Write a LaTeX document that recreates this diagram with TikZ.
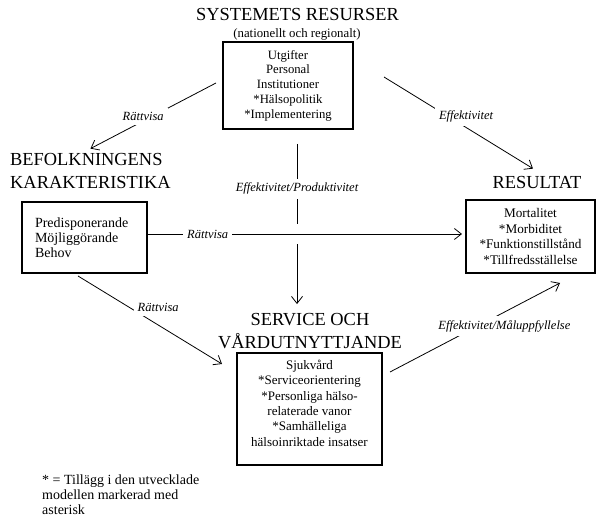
\documentclass[tikz,border=0pt]{standalone}
\usepackage{fontspec}
\setmainfont{Liberation Serif}
\usepackage{tikz}
\usetikzlibrary{arrows.meta, quotes}
\tikzstyle{every picture} = [x=1pt, y=-1pt]
\tikzstyle{heading} = [inner sep=0, align=center, font=\fontsize{18.4}{23}\selectfont]
\tikzstyle{box} = [draw, line width=2pt, align=center, inner sep=0]
\tikzstyle{arr} = [-{Straight Barb[length=7pt, width=11pt]}, line width=0.8pt]
\tikzset{every edge quotes/.style={fill=white, inner sep=4pt, font=\fontsize{12.5}{14}\selectfont\itshape}}

\begin{document}
\begin{tikzpicture}
            \useasboundingbox (0,0) rectangle (598,521);

            \node (title 1) at(297.5,14.5) [heading] {SYSTEMETS RESURSER};
            \node (title 1b) at(297,34.3) [inner sep=0, font=\fontsize{12.8}{14}\selectfont] {(nationellt och regionalt)};
            \node (box 1) at(288,85.5) [box, minimum width=130pt, minimum height=87pt, font=\fontsize{12.7}{14.75}\selectfont] {Utgifter\\Personal\\Institutioner\\*Hälsopolitik\\*Implementering};
            \node (title 2) at(10,171.5) [heading, anchor=west, align=left] {BEFOLKNINGENS\\KARAKTERISTIKA};
            \node (box 2) at(84.5,237.5) [box, text width=99pt, inner xsep=13pt, minimum height=71pt, align=left, font=\fontsize{14}{15}\selectfont] {Predisponerande\\Möjliggörande\\Behov};
            \node (title 3) at(537,183) [heading] {RESULTAT};
            \node (box 3) at(530.5,236.5) [box, minimum width=129pt, minimum height=73pt, font=\fontsize{13.2}{15.6}\selectfont] {Mortalitet\\*Morbiditet\\*Funktionstillstånd\\*Tillfredsställelse};
            \node (title 4) at(310,331) [heading] {SERVICE OCH\\VÅRDUTNYTTJANDE};
            \node (box 4) at(309.5,409) [box, minimum width=145pt, minimum height=112pt, font=\fontsize{13}{15.4}\selectfont] {Sjukvård\\*Serviceorientering\\*Personliga hälso-\\relaterade vanor\\*Samhälleliga\\hälsoinriktade insatser\rule[-12pt]{0pt}{1pt}};
            \node (note) at(42,495) [anchor=west, align=left, inner sep=0, font=\fontsize{14}{15}\selectfont] {* = Tillägg i den utvecklade\\modellen markerad med\\asterisk};

            \path 	([xshift=-6pt,yshift=2.5pt]box 1.west) edge[arr, "Rättvisa" {pos=0.58, yshift=4.5pt}] ([yshift=5pt]title 2.north)
            		([xshift=30pt,yshift=8.5pt]box 1.east) edge[arr, "Effektivitet" {pos=0.43, xshift=18pt}] ([xshift=-4pt,yshift=8pt]title 3.north)
            		([xshift=9pt,yshift=-14pt]box 1.south) edge[arr, "Effektivitet/Produktivitet" {pos=0.28}] ([xshift=-13pt,yshift=9pt]title 4.north);
            \path 	([yshift=3.5pt]box 2.east) edge[arr, preaction={draw=white, line width=20pt, -, shorten <=4pt, shorten >=6pt}, "Rättvisa" {pos=0.19}] ([xshift=-3pt,yshift=2.5pt]box 3.west)
            		([xshift=-6.5pt,yshift=-2pt]box 2.south) edge[arr, "Rättvisa" {pos=0.39, xshift=24pt, yshift=3pt}] ([xshift=-14pt,yshift=-12pt]box 4.north west)
            		([xshift=7pt,yshift=-20pt]box 4.north east) edge[arr, "Effektivitet/Måluppfyllelse" {pos=0.6, xshift=12.4pt, yshift=-7.6pt}] ([xshift=29.5pt,yshift=-9pt]box 3.south);

        \end{tikzpicture}
\end{document}
